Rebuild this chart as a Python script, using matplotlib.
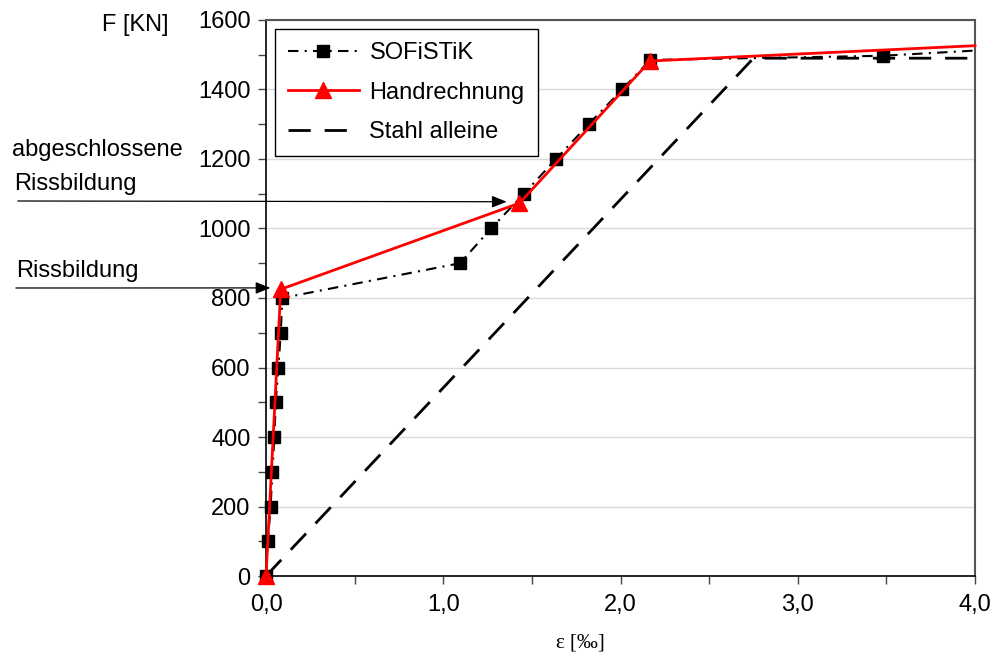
import matplotlib.pyplot as plt
from matplotlib.ticker import MultipleLocator, FuncFormatter

plt.rcParams['font.family'] = ['Liberation Sans', 'DejaVu Sans']

# SOFiSTiK results (strain in permille, force in kN)
sofi_eps = [0.0, 0.01, 0.026, 0.036, 0.047, 0.055, 0.07, 0.083, 0.092,
            1.094, 1.27, 1.455, 1.636, 1.82, 2.01, 2.167, 3.48, 4.0]
sofi_F = [0, 100, 200, 300, 400, 500, 600, 700, 800,
          900, 1000, 1100, 1200, 1300, 1400, 1485, 1497, 1512]
sofi_marked = list(range(17))  # last point has no marker

# hand calculation
hand_eps = [0.0, 0.083, 1.43, 2.167, 4.0]
hand_F = [0, 825, 1073, 1482, 1526]
hand_marked = [0, 1, 2, 3]

# steel only
steel_eps = [0.0, 2.75, 4.0]
steel_F = [0, 1490, 1490]

FS = 17

fig = plt.figure(figsize=(9.93, 6.53), dpi=100)
ax = fig.add_axes([0.2679, 0.1179, 0.714, 0.8515])

ax.plot(sofi_eps, sofi_F, color='black', lw=1.5, ls=(0, (5, 3, 1, 3)),
        marker='s', ms=9, markevery=sofi_marked, label='SOFiSTiK',
        zorder=3, clip_on=False)
ax.plot(hand_eps, hand_F, color='red', lw=2, marker='^', ms=11,
        markevery=hand_marked, label='Handrechnung', zorder=4, clip_on=False)
ax.plot(steel_eps, steel_F, color='black', lw=2, ls=(0, (8, 5)),
        label='Stahl alleine', zorder=2)

ax.set_xlim(0, 4.0)
ax.set_ylim(0, 1600)
ax.xaxis.set_major_locator(MultipleLocator(1.0))
ax.xaxis.set_minor_locator(MultipleLocator(0.5))
ax.yaxis.set_major_locator(MultipleLocator(200))
ax.yaxis.set_minor_locator(MultipleLocator(100))
ax.xaxis.set_major_formatter(FuncFormatter(lambda v, p: f'{v:.1f}'.replace('.', ',')))
ax.tick_params(axis='both', which='both', direction='out', labelsize=FS,
               length=6, width=1, color='#444444')
ax.tick_params(axis='x', pad=7)
ax.tick_params(axis='y', pad=5)
ax.grid(axis='y', which='major', color='#d9d9d9', lw=1)
ax.set_axisbelow(True)

for side in ['left', 'bottom']:
    ax.spines[side].set_color('black')
    ax.spines[side].set_linewidth(1.2)
for side in ['top', 'right']:
    ax.spines[side].set_color('#555555')
    ax.spines[side].set_linewidth(1.5)

leg = ax.legend(loc='upper left', fontsize=FS, frameon=True, fancybox=False,
                edgecolor='black', framealpha=1, handlelength=3.0,
                borderpad=0.55, labelspacing=0.75, handletextpad=0.45,
                borderaxespad=0.38)
leg.get_frame().set_linewidth(1.0)
leg.set_zorder(5)

fig.text(0.103, 1 - 25 / 653, 'F [KN]', fontsize=FS, ha='left', va='center')
fig.text(0.584, 1 - 643 / 653, 'ε [‰]', fontsize=15, ha='center', va='center',
         family=['Liberation Serif', 'DejaVu Serif'])

# annotation arrows starting outside the axes
arrow = dict(arrowstyle='-|>,head_length=0.45,head_width=0.18', color='black',
             lw=0.9, mutation_scale=20, shrinkA=0, shrinkB=0)
ax.annotate('', xy=(1.358, 1077), xycoords='data',
            xytext=(0.018, 1 - 201 / 653), textcoords='figure fraction',
            arrowprops=arrow, annotation_clip=False)
ax.annotate('', xy=(0.025, 829), xycoords='data',
            xytext=(0.016, 1 - 288 / 653), textcoords='figure fraction',
            arrowprops=arrow, annotation_clip=False)
fig.text(0.012, 1 - 150 / 653, 'abgeschlossene', fontsize=FS, ha='left', va='center')
fig.text(0.014, 1 - 184 / 653, 'Rissbildung', fontsize=FS, ha='left', va='center')
fig.text(0.016, 1 - 271 / 653, 'Rissbildung', fontsize=FS, ha='left', va='center')

fig.savefig('out.png', dpi=100)
